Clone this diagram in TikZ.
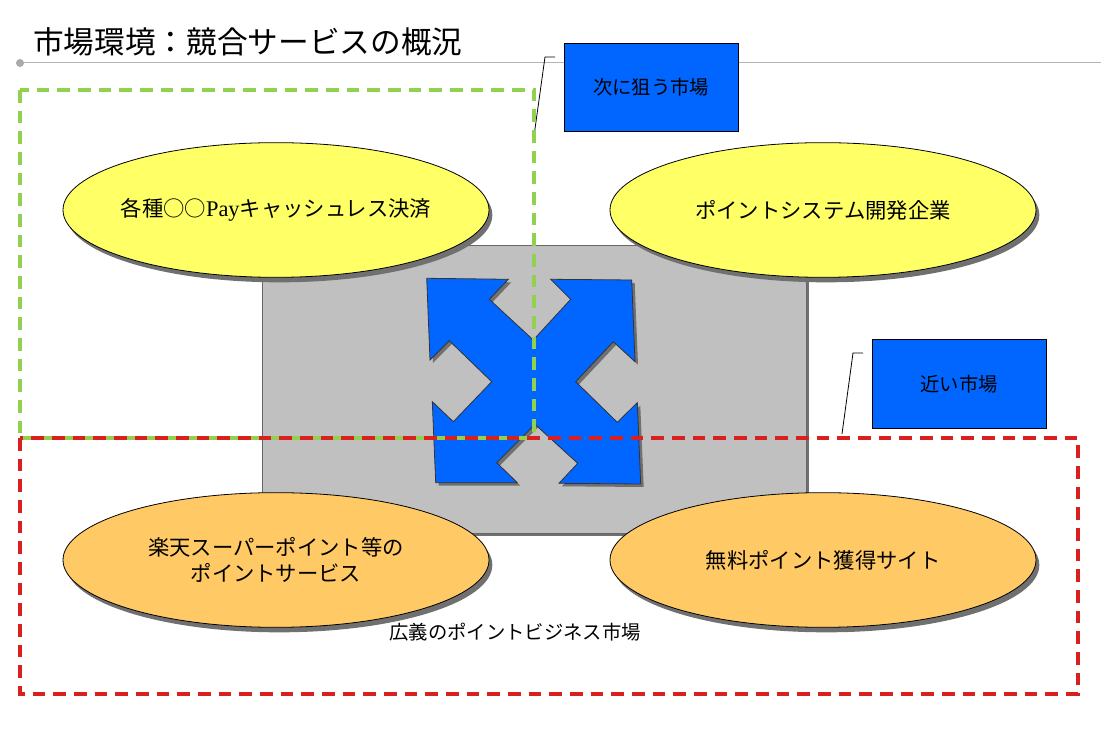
\documentclass[tikz,border=0pt]{standalone}
\usepackage{fontspec}
\setmainfont{Noto Sans CJK JP}
\newfontfamily\payfont{Liberation Serif}[Scale=1.05]
\usetikzlibrary{shapes.geometric,shadows}
\definecolor{ellyellow}{HTML}{FFFF66}
\definecolor{ellorange}{HTML}{FFCA66}
\definecolor{arrowblue}{HTML}{0066FF}
\definecolor{boxgray}{HTML}{C0C0C0}
\definecolor{mktgreen}{HTML}{92D050}
\definecolor{mktred}{HTML}{DA1F1F}
\definecolor{shadowgray}{HTML}{707070}
\definecolor{rulegray}{HTML}{B4B4B4}
\begin{document}
\begin{tikzpicture}[x=0.75pt,y=-0.75pt,
  ellbase/.style={ellipse, draw=black, line width=0.6pt, inner sep=0pt,
    minimum width=319.5pt, minimum height=101pt,
    drop shadow={shadow xshift=2.5pt, shadow yshift=-3.75pt, fill=shadowgray, opacity=1}},
  ellY/.style={ellbase, fill=ellyellow},
  ellO/.style={ellbase, fill=ellorange},
  elltext/.style={align=center, inner sep=0pt, font=\fontsize{16}{20}\selectfont},
  callout/.style={rectangle, draw=black, line width=0.6pt, fill=arrowblue,
    minimum width=130.5pt, minimum height=66.5pt, inner sep=0pt,
    font=\fontsize{14.5}{18}\selectfont},
  leader/.style={draw=black, line width=0.6pt},
  mktbox/.style={line width=3pt, dash pattern=on 9.5pt off 6pt},
]
\useasboundingbox (0,0) rectangle (1101,730);

% title
\node[anchor=west, inner sep=0pt, font=\fontsize{23}{28}\selectfont] (title) at (33,42) {市場環境：競合サービスの概況};
\coordinate (ruleL) at (20,63);
\coordinate (ruleR) at (1101,63);
\draw[rulegray, line width=0.75pt] (ruleL) -- (ruleR);
\fill[rulegray!80!gray] (ruleL) circle [radius=4];

% core grey box
\node[rectangle, draw=black!60, line width=0.6pt, fill=boxgray, inner sep=0pt,
  minimum width=408pt, minimum height=216pt,
  drop shadow={shadow xshift=2pt, shadow yshift=-2pt, fill=shadowgray, opacity=1}] (core) at (534,389) {};

% four-way arrow
\fill[shadowgray, shift={(3,3)}]
  (426.7,278.3) -- (508.3,279.3) -- (489.3,299.3) -- (533.3,340) -- (570.7,299.3) -- (550.7,279.3)
  -- (631.7,280) -- (635,361.7) -- (613.3,341.7) -- (575.7,381.7) -- (617.3,422.3) -- (637.3,402.7)
  -- (640.7,484) -- (559,483.3) -- (577.7,463.3) -- (535,424.3) -- (496.7,462.7) -- (517.3,482.7)
  -- (435.7,482.7) -- (432.3,401.7) -- (453.3,421.7) -- (491.7,381.7) -- (449.3,340.7) -- (430,360) -- cycle;
\draw[fill=arrowblue, draw=black!80, line width=0.6pt]
  (426.7,278.3) -- (508.3,279.3) -- (489.3,299.3) -- (533.3,340) -- (570.7,299.3) -- (550.7,279.3)
  -- (631.7,280) -- (635,361.7) -- (613.3,341.7) -- (575.7,381.7) -- (617.3,422.3) -- (637.3,402.7)
  -- (640.7,484) -- (559,483.3) -- (577.7,463.3) -- (535,424.3) -- (496.7,462.7) -- (517.3,482.7)
  -- (435.7,482.7) -- (432.3,401.7) -- (453.3,421.7) -- (491.7,381.7) -- (449.3,340.7) -- (430,360) -- cycle;

% ellipses
\node[ellY] (pay) at (276,210) {};
\node[elltext] (payText) at (pay.center) {各種○○\payfont Pay\normalfont キャッシュレス決済};
\node[ellY] (dev) at (823,210) {};
\node[elltext] (devText) at (dev.center) {ポイントシステム開発企業};
\node[ellO] (rakuten) at (276,560) {};
\node[elltext] (rakutenText) at (rakuten.center) {楽天スーパーポイント等の\\ポイントサービス};
\node[ellO] (free) at (823,560) {};
\node[elltext] (freeText) at (free.center) {無料ポイント獲得サイト};

% callouts
\node[callout] (next) at (651,87.5) {次に狙う市場};
\node[callout] (near) at (959,384) {近い市場};
\coordinate (nextA) at (555,57);
\coordinate (nextB) at (545,57);
\coordinate (nextC) at (534,136);
\draw[leader] (nextA) -- (nextB) -- (nextC);
\coordinate (nearA) at (863,353);
\coordinate (nearB) at (853,353);
\coordinate (nearC) at (842,434);
\draw[leader] (nearA) -- (nearB) -- (nearC);

% market boxes
\draw[mktbox, mktgreen] (20,90) rectangle (534,438);
\draw[mktbox, mktred] (20,438) rectangle (1078,694);

\node[font=\fontsize{14.5}{18}\selectfont] (broad) at (515,632) {広義のポイントビジネス市場};
\end{tikzpicture}
\end{document}
